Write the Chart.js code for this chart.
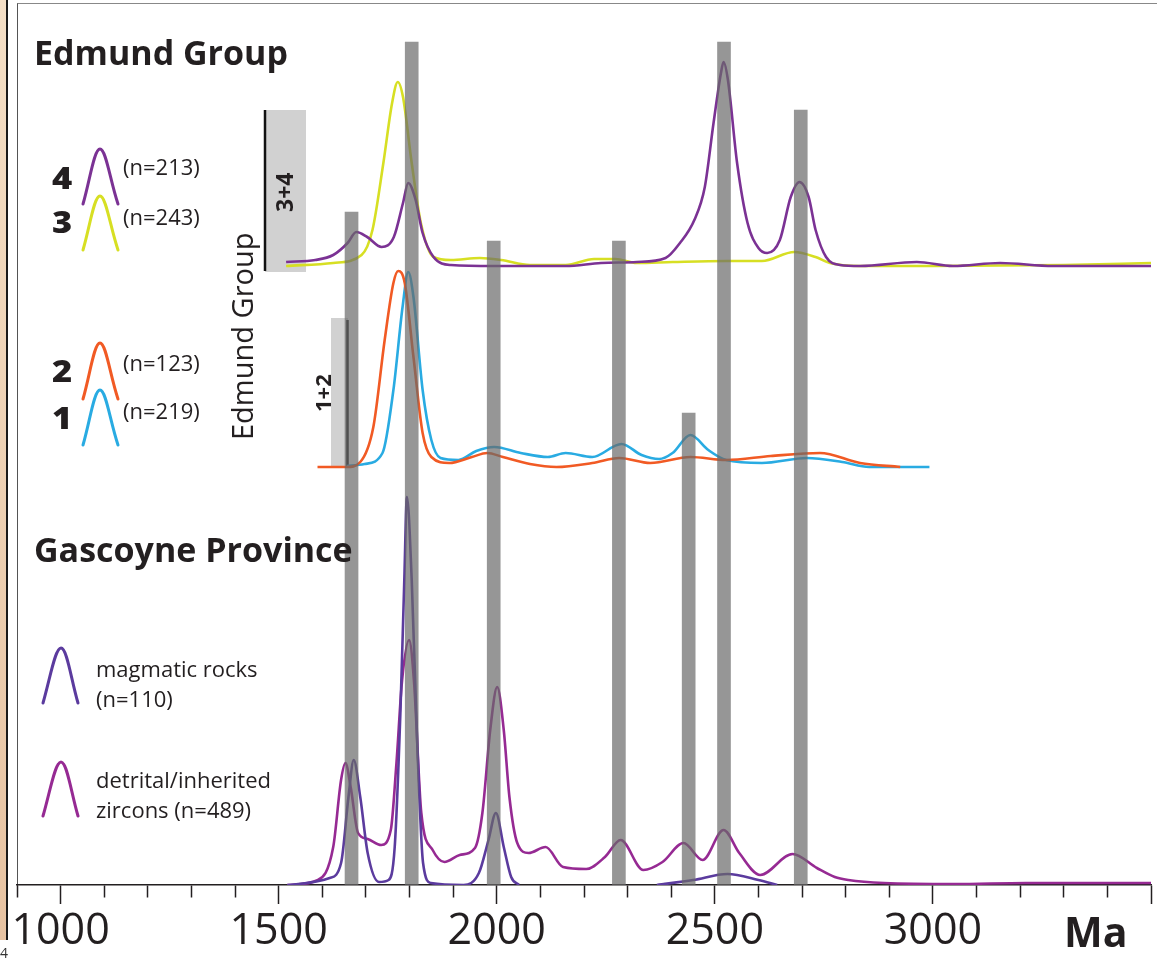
<!DOCTYPE html>
<html>
<head>
<meta charset="utf-8">
<script src="https://cdn.jsdelivr.net/npm/chart.js@4.4.0/dist/chart.umd.min.js"></script>
<style>
  body { margin: 0; background: #fff; font-family: "Open Sans", sans-serif; color: #231f20; }
  #wrap { position: relative; width: 1157px; height: 964px; overflow: hidden; }
  #strip { position: absolute; left: 0; top: 0; width: 6px; height: 940px;
           background: linear-gradient(#f4dfc6, #e7c3a2); border-right: 2px solid #1a1a1a; }
  #frame { position: absolute; left: 17px; top: 3px; width: 1145px; height: 882px;
           border-left: 1.5px solid #555; border-top: 1px solid #888; }
  #deco { position: absolute; left: 0; top: 0; }
  #chart { position: absolute; left: 0; top: 0; }
  .t { position: absolute; line-height: 1; white-space: nowrap; }
  .b { font-weight: 700; }
  .num { font-weight: 800; font-size: 30px; transform-origin: 0 0; transform: scaleX(1.15); }
  .rot { left: 0; top: 0; transform-origin: 0 0; }
</style>
</head>
<body>
<div id="wrap">
  <div id="strip"></div>
  <div id="frame"></div>
  <svg id="deco" width="1157" height="964">
    <!-- scale bars -->
    <rect x="265" y="110" width="41" height="162" fill="#d1d1d1"/>
    <line x1="265" y1="110" x2="265" y2="271" stroke="#111" stroke-width="2.5"/>
    <rect x="331" y="318" width="17" height="150" fill="#d1d1d1"/>
    <line x1="347.5" y1="320" x2="347.5" y2="467" stroke="#111" stroke-width="2.5"/>
    <!-- legend glyphs -->
    <g fill="none" stroke-width="3" stroke-linecap="round">
      <path d="M83,204 C90,180 94,149 100,149 C106,149 110,180 118,204" stroke="#7b3294"/>
      <path d="M83,250 C90,226 94,196 100,196 C106,196 110,226 118,250" stroke="#d7df23"/>
      <path d="M83,399 C90,375 94,343 100,343 C106,343 110,375 118,399" stroke="#f15a24"/>
      <path d="M83,445 C90,421 94,390 100,390 C106,390 110,421 118,445" stroke="#29abe2"/>
      <path d="M43,703 C50,679 55,648 61,648 C67,648 71,679 78,703" stroke="#5b3b9e"/>
      <path d="M43,816 C50,792 55,762 61,762 C67,762 71,792 78,816" stroke="#962a93"/>
    </g>
  </svg>
  <canvas id="chart" width="1157" height="964"></canvas>

  <div class="t b" style="left:34px; top:35px; font-size:34px;">Edmund Group</div>
  <div class="t b" style="left:34px; top:532px; font-size:34px;">Gascoyne Province</div>
  <div class="t num" style="left:52px; top:163px;">4</div>
  <div class="t num" style="left:52px; top:207px;">3</div>
  <div class="t num" style="left:52px; top:356px;">2</div>
  <div class="t num" style="left:52px; top:403px;">1</div>
  <div class="t" style="left:123px; top:155px; font-size:22px;">(n=213)</div>
  <div class="t" style="left:123px; top:205px; font-size:22px;">(n=243)</div>
  <div class="t" style="left:123px; top:351px; font-size:22px;">(n=123)</div>
  <div class="t" style="left:123px; top:399px; font-size:22px;">(n=219)</div>
  <div class="t" style="left:96px; top:657px; font-size:22px;">magmatic rocks</div>
  <div class="t" style="left:96px; top:687px; font-size:22px;">(n=110)</div>
  <div class="t" style="left:96px; top:768px; font-size:22px;">detrital/inherited</div>
  <div class="t" style="left:96px; top:798px; font-size:22px;">zircons (n=489)</div>
  <div class="t b" style="left:1064px; top:911px; font-size:41px;">Ma</div>
  <div class="t rot" style="font-size:29px; transform: translate(227px, 440px) rotate(-90deg);">Edmund Group</div>
  <div class="t b rot" style="font-size:23px; transform: translate(273px, 212px) rotate(-90deg);">3+4</div>
  <div class="t b rot" style="font-size:22px; transform: translate(311px, 412px) rotate(-90deg);">1+2</div>
  <div class="t" style="left:0px; top:946px; font-size:14px; color:#333;">4</div>
</div>

<script>
// ages (Ma) and relative probability (height above the curve's own baseline)
// Edmund Group, sample set 4 (purple)
const ages4 = [1517, 1584, 1625, 1658, 1678, 1703, 1736, 1764, 1785, 1797, 1814, 1830, 1855, 1895, 1994, 2158, 2239, 2321, 2387, 2420, 2453, 2477, 2497, 2514, 2520, 2530, 2551, 2575, 2600, 2620, 2649, 2674, 2694, 2715, 2731, 2755, 2787, 2833, 2963, 3046, 3154, 3275, 3400, 3500];
const dens4 = [4, 6, 11, 23, 34, 29, 19, 29, 63, 83, 66, 33, 9, 1, 0, 0, 3, 4, 8, 23, 46, 79, 143, 193, 204, 186, 103, 43, 18, 13, 26, 69, 84, 69, 36, 9, 1, 0, 4, 0, 3, 0, 0, 0];
// Edmund Group, sample set 3 (yellow)
const ages3 = [1517, 1625, 1690, 1715, 1740, 1760, 1773, 1785, 1805, 1826, 1855, 1895, 1961, 2010, 2076, 2158, 2223, 2272, 2321, 2403, 2526, 2608, 2682, 2731, 2764, 2830, 3000, 3300, 3500];
const dens3 = [0, 3, 11, 36, 103, 163, 184, 169, 103, 43, 9, 6, 8, 6, 1, 1, 7, 7, 3, 4, 5, 5, 14, 9, 3, 0, 0, 1, 3];
// Edmund Group, sample set 2 (orange)
const ages2 = [1589, 1656, 1687, 1717, 1743, 1763, 1774, 1789, 1809, 1830, 1850, 1891, 1943, 1978, 2014, 2076, 2137, 2219, 2281, 2352, 2444, 2526, 2628, 2741, 2833, 2925];
const dens2 = [0, 0, 5, 40, 127, 184, 196, 184, 110, 34, 10, 4, 10, 14, 10, 3, 0, 4, 9, 4, 10, 7, 11, 14, 4, 0];
// Edmund Group, sample set 1 (blue)
const ages1 = [1656, 1697, 1738, 1763, 1784, 1797, 1809, 1830, 1850, 1871, 1912, 1953, 1994, 2055, 2117, 2158, 2219, 2286, 2332, 2372, 2403, 2444, 2485, 2526, 2608, 2711, 2792, 2854, 2992];
const dens1 = [1, 3, 14, 77, 160, 195, 170, 77, 27, 9, 7, 16, 20, 14, 10, 14, 10, 23, 12, 8, 14, 32, 17, 7, 4, 9, 5, 0, 0];
// Gascoyne Province, magmatic rocks (null = gap)
const agesMag = [1520, 1617, 1643, 1660, 1672, 1687, 1704, 1730, 1752, 1766, 1779, 1788, 1794, 1805, 1818, 1831, 1849, 1924, 1959, 1981, 1998, 2016, 2033, 2051, 2200, 2367, 2450, 2529, 2600, 2643];
const densMag = [0, 7, 22, 88, 125, 88, 32, 3, 5, 38, 172, 305, 388, 305, 138, 22, 2, 0, 12, 45, 72, 38, 8, 0, null, 0, 5, 11, 5, 0];
// Gascoyne Province, detrital / inherited zircons
const agesDet = [1520, 1590, 1625, 1643, 1653, 1665, 1682, 1704, 1735, 1757, 1770, 1783, 1799, 1810, 1827, 1853, 1880, 1915, 1950, 1967, 1985, 2001, 2016, 2029, 2047, 2073, 2112, 2152, 2205, 2248, 2284, 2336, 2380, 2428, 2472, 2520, 2556, 2604, 2678, 2734, 2775, 2806, 2888, 3050, 3213, 3376, 3500];
const densDet = [0, 5, 38, 105, 122, 98, 52, 46, 40, 55, 122, 205, 245, 205, 72, 35, 23, 30, 37, 72, 155, 198, 155, 88, 42, 32, 38, 18, 16, 28, 45, 15, 23, 42, 25, 55, 32, 10, 31, 17, 8, 5, 2, 1, 2, 2, 2];

// grey age bands
const bandAges = [1667, 1805, 1993, 2280, 2440, 2521, 2697];
const bandHeights = [673, 843, 644, 644, 472, 843, 775];

// vertical offsets of the three stacked panels
const baseGascoyne = 0;
const base12 = 418;
const base34 = 619;

const axisTicks = [1000, 1500, 2000, 2500, 3000];

function toPoints(ages, dens, base) {
  return ages.map((a, i) => ({ x: a, y: dens[i] === null ? null : dens[i] + base }));
}

function curve(label, ages, dens, base, color) {
  return {
    type: "line",
    label: label,
    data: toPoints(ages, dens, base),
    borderColor: color,
    borderWidth: 2.6,
    pointRadius: 0,
    fill: false,
    spanGaps: false,
    cubicInterpolationMode: "monotone",
    order: 1
  };
}

const ctx = document.getElementById("chart").getContext("2d");

new Chart(ctx, {
  type: "line",
  data: {
    datasets: [
      {
        type: "bar",
        label: "bands",
        data: bandAges.map((a, i) => ({ x: a, y: bandHeights[i] })),
        backgroundColor: "rgba(105,105,105,0.7)",
        barThickness: 13,
        grouped: false,
        order: 0
      },
      curve("4", ages4, dens4, base34, "#7b3294"),
      curve("3", ages3, dens3, base34, "#d7df23"),
      curve("2", ages2, dens2, base12, "#f15a24"),
      curve("1", ages1, dens1, base12, "#29abe2"),
      curve("magmatic", agesMag, densMag, baseGascoyne, "#5b3b9e"),
      curve("detrital", agesDet, densDet, baseGascoyne, "#962a93")
    ]
  },
  options: {
    responsive: false,
    animation: false,
    layout: { padding: { left: 17, right: 6, top: 3, bottom: 0 } },
    plugins: { legend: { display: false }, tooltip: { enabled: false } },
    scales: {
      x: {
        type: "linear",
        min: 900,
        max: 3500,
        offset: false,
        border: { display: true, color: "#231f20", width: 1.5 },
        grid: {
          display: true,
          offset: false,
          drawOnChartArea: false,
          drawTicks: true,
          tickLength: 19,
          tickWidth: 1.5,
          tickColor: "#231f20",
          tickBorderDash: function (c) {
            return (c.tick && c.tick.value % 500 === 0) ? [] : [12, 40];
          }
        },
        ticks: {
          stepSize: 100,
          autoSkip: false,
          maxRotation: 0,
          padding: 2,
          color: "#231f20",
          font: { family: "Open Sans", size: 43 },
          callback: function (v) {
            return axisTicks.includes(v) ? String(v) : "";
          }
        },
        afterFit: function (scale) { scale.height = 79; }
      },
      y: { display: false, min: 0, max: 882 }
    }
  }
});
</script>
</body>
</html>
